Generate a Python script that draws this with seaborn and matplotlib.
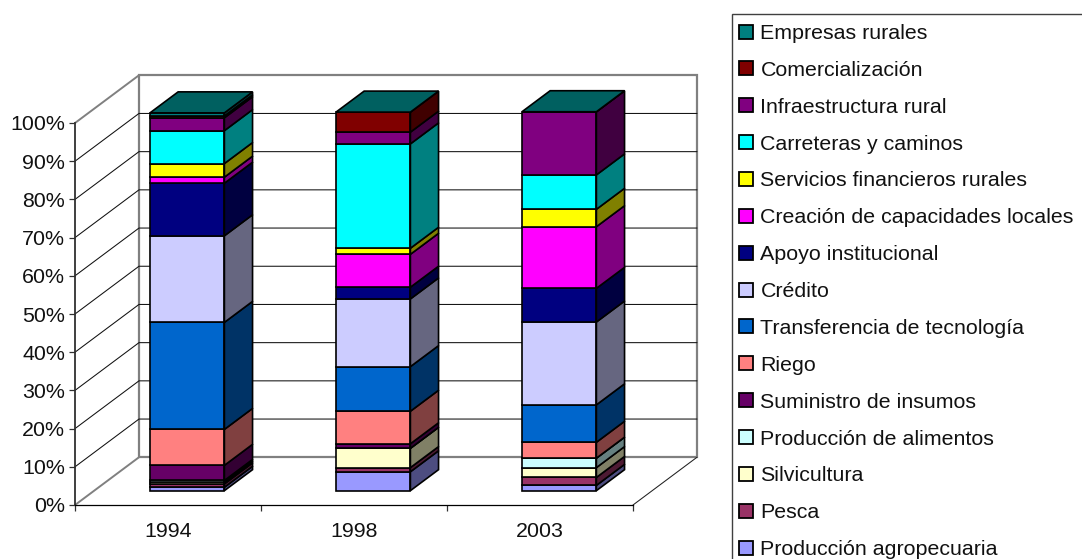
import numpy as np
import pandas as pd
import seaborn as sns
import matplotlib
matplotlib.use("Agg")
import matplotlib.pyplot as plt
from matplotlib.colors import to_rgb
from matplotlib.lines import Line2D
from matplotlib.patches import Patch, Polygon, Rectangle
from matplotlib.transforms import Affine2D

sns.set_theme(style="white")
plt.rcParams["font.family"] = ["Liberation Sans", "DejaVu Sans"]

# Shares of investment per year, in percent, stacked from the ground up
years = ["1994", "1998", "2003"]
produccion_agropecuaria = [0.9, 5.0, 1.4]
pesca = [0.9, 1.1, 2.1]
silvicultura = [0.5, 5.1, 2.6]
produccion_alimentos = [0.4, 0.0, 2.5]
suministro_insumos = [4.0, 1.2, 0.0]
riego = [9.5, 8.6, 4.2]
transferencia = [28.3, 11.8, 9.9]
credito = [22.9, 17.9, 21.9]
apoyo = [13.9, 3.1, 8.9]
creacion = [1.6, 8.7, 16.3]
servicios = [3.6, 1.6, 4.6]
carreteras = [8.7, 27.6, 9.1]
infraestructura = [3.4, 3.1, 16.7]
comercializacion = [0.5, 5.3, 0.0]
empresas = [0.8, 0.0, 0.0]

series = [
    ("Producción agropecuaria", produccion_agropecuaria, "#9999FF"),
    ("Pesca", pesca, "#993366"),
    ("Silvicultura", silvicultura, "#FFFFCC"),
    ("Producción de alimentos", produccion_alimentos, "#CCFFFF"),
    ("Suministro de insumos", suministro_insumos, "#660066"),
    ("Riego", riego, "#FF8080"),
    ("Transferencia de tecnología", transferencia, "#0066CC"),
    ("Crédito", credito, "#CCCCFF"),
    ("Apoyo institucional", apoyo, "#000080"),
    ("Creación de capacidades locales", creacion, "#FF00FF"),
    ("Servicios financieros rurales", servicios, "#FFFF00"),
    ("Carreteras y caminos", carreteras, "#00FFFF"),
    ("Infraestructura rural", infraestructura, "#800080"),
    ("Comercialización", comercializacion, "#800000"),
    ("Empresas rurales", empresas, "#008080"),
]
table = pd.DataFrame({"Año": years, **{name: vals for name, vals, _ in series}})

W, H = 1082, 559
fig = plt.figure(figsize=(W / 100, H / 100), dpi=100, facecolor="white")
ax = fig.add_axes([75 / W, (H - 505) / H, 558 / W, 382 / H], facecolor="none")

# Oblique projection: depth 0 is the front plane, depth 1 the back wall
DEPTH_X = 0.344
DEPTH_V = 12.5
BAR_FRONT = 0.30
BAR_BACK = 0.74
BAR_WIDTH = 0.40
BAR_SCALE = 0.99
WALL = "#808080"
EDGE_LW = 1.2
FONT_SIZE = 15.4


def project(x, v, depth):
    return (x + depth * DEPTH_X, v + depth * DEPTH_V)


def shade(color, factor):
    return tuple(c * factor for c in to_rgb(color))


X0, X1 = -0.5, 2.5
ticks_v = np.arange(0, 101, 10)

# Back wall, side wall and floor
back = [project(X0, 0, 1), project(X1, 0, 1), project(X1, 100, 1), project(X0, 100, 1)]
ax.add_patch(Polygon(back, closed=True, fc="white", ec=WALL, lw=1.6, clip_on=False, zorder=1))
for v in (0, 100):
    p, q = project(X0, v, 0), project(X0, v, 1)
    ax.add_line(Line2D([p[0], q[0]], [p[1], q[1]], color=WALL, lw=1.4, clip_on=False, zorder=1))
p, q = project(X1, 0, 0), project(X1, 0, 1)
ax.add_line(Line2D([p[0], q[0]], [p[1], q[1]], color="#202020", lw=0.75, clip_on=False, zorder=1))

# Gridlines run across the side wall and along the back wall
for v in ticks_v[1:-1]:
    a, b, c = project(X0, v, 0), project(X0, v, 1), project(X1, v, 1)
    ax.add_line(Line2D([a[0], b[0], c[0]], [a[1], b[1], c[1]], color="#101010", lw=0.75,
                       clip_on=False, zorder=1.5))

# Stacked columns: front faces through seaborn, side and top faces from the same values
front_tf = Affine2D().scale(1, BAR_SCALE).translate(BAR_FRONT * DEPTH_X, BAR_FRONT * DEPTH_V) + ax.transData
cumulative = np.zeros(len(years))
for name, vals, color in series:
    n_before = len(ax.patches)
    sns.barplot(data=table, x="Año", y=name, bottom=cumulative, color=color, saturation=1,
                width=BAR_WIDTH, errorbar=None, edgecolor="black", linewidth=EDGE_LW,
                clip_on=False, zorder=3, ax=ax)
    for patch in ax.patches[n_before:]:
        patch.set_transform(front_tf)
    for i, (base, val) in enumerate(zip(cumulative, vals)):
        xr = i + BAR_WIDTH / 2
        lo, hi = base * BAR_SCALE, (base + val) * BAR_SCALE
        side = [project(xr, lo, BAR_FRONT), project(xr, lo, BAR_BACK),
                project(xr, hi, BAR_BACK), project(xr, hi, BAR_FRONT)]
        ax.add_patch(Polygon(side, closed=True, fc=shade(color, 0.5), ec="black",
                             lw=EDGE_LW, clip_on=False, zorder=3))
    cumulative = cumulative + np.array(vals)

# Lid of each column carries the colour of the last series
for i, total in enumerate(cumulative):
    xl, xr = i - BAR_WIDTH / 2, i + BAR_WIDTH / 2
    top = total * BAR_SCALE
    lid = [project(xl, top, BAR_FRONT), project(xr, top, BAR_FRONT),
           project(xr, top, BAR_BACK), project(xl, top, BAR_BACK)]
    ax.add_patch(Polygon(lid, closed=True, fc=shade(series[-1][2], 0.75), ec="black",
                         lw=EDGE_LW, clip_on=False, zorder=3))

ax.set_xlim(X0, X1)
ax.set_ylim(0, 100)
ax.set_xlabel("")
ax.set_ylabel("")
for side_name in ("top", "right"):
    ax.spines[side_name].set_visible(False)
ax.spines["left"].set_color("#303030")
ax.spines["left"].set_linewidth(1.3)
ax.spines["bottom"].set_color("black")
ax.spines["bottom"].set_linewidth(0.9)
ax.set_yticks(ticks_v)
ax.set_yticklabels([f"{v}%" for v in ticks_v])
ax.set_xticks([X0, 0.5, 1.5, X1], minor=True)
ax.tick_params(axis="x", which="major", length=0, pad=12, labelsize=FONT_SIZE, labelcolor="#111111")
ax.tick_params(axis="x", which="minor", length=4, width=0.9, color="#303030", bottom=True)
ax.tick_params(axis="y", which="major", length=4, width=0.9, color="#303030", left=True, pad=3,
               labelsize=FONT_SIZE, labelcolor="#111111")

# Legend lists the series from the top of the stack down; its frame runs past the canvas
handles = [Patch(fc=color, ec="black", lw=1.3, label=name) for name, _, color in reversed(series)]
legend = fig.legend(handles=handles, loc="upper left", bbox_to_anchor=(732 / W, 1 - 17 / H),
                    frameon=False, fontsize=FONT_SIZE, labelspacing=0.835, borderpad=0.33, borderaxespad=0,
                    handlelength=0.63, handleheight=0.63, handletextpad=0.37, labelcolor="#111111")
fig.add_artist(Rectangle((732 / W, -0.1), 0.5, 1.1 - 14 / H, transform=fig.transFigure, fill=False,
                         ec="#404040", lw=1.0))

fig.savefig("out.png", dpi=100, facecolor="white")
